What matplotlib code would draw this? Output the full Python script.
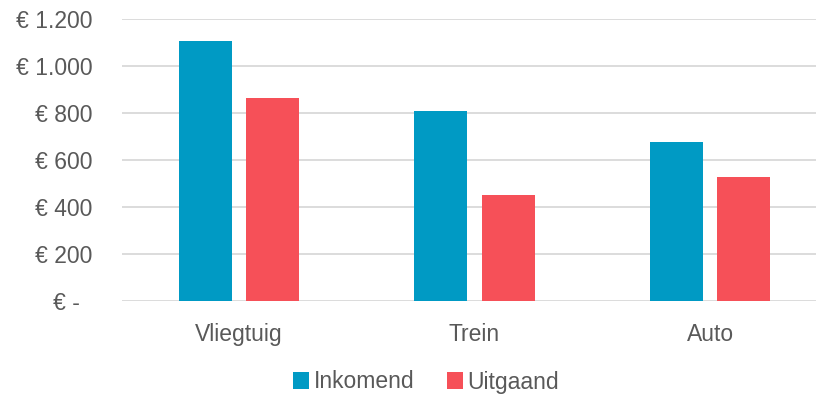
import matplotlib.pyplot as plt
import numpy as np
from matplotlib.ticker import FuncFormatter

categories = ["Vliegtuig", "Trein", "Auto"]
inkomend = [1106, 808, 677]
uitgaand = [864, 452, 528]
series_names = ["Inkomend", "Uitgaand"]
colors = ["#009AC4", "#F65058"]
text_color = "#595959"

plt.rcParams['font.family'] = ['Liberation Sans', 'DejaVu Sans']

fig = plt.figure(figsize=(8.16, 4.0), dpi=100)
ax = fig.add_axes([122 / 816, 1 - 301 / 400, 1 - 122 / 816, (301 - 19) / 400])

x = np.arange(len(categories))
w = 0.225
off = 0.1425
ax.bar(x - off, inkomend, w, color=colors[0], label=series_names[0], zorder=3)
ax.bar(x + off, uitgaand, w, color=colors[1], label=series_names[1], zorder=3)

ax.set_xlim(-0.497, 2.45)
ax.set_ylim(0, 1200)
ax.set_yticks(np.arange(0, 1201, 200))


def euro(v, pos):
    if v == 0:
        return "€ -  "
    return "€ " + f"{int(v):,}".replace(",", ".")


ax.yaxis.set_major_formatter(FuncFormatter(euro))
ax.set_xticks(x)
ax.set_xticklabels(categories)

ax.grid(axis='y', color="#D9D9D9", linewidth=1.3, zorder=0)
for s in ax.spines.values():
    s.set_visible(False)
ax.tick_params(axis='both', length=0, labelsize=16.5, colors=text_color)
ax.tick_params(axis='y', pad=21)
ax.tick_params(axis='x', pad=16)

fig.legend(loc='center', bbox_to_anchor=(426 / 816, 1 - 382 / 400), ncol=2,
           frameon=False, fontsize=16.5, labelcolor=text_color,
           handlelength=0.7, handleheight=0.7, handletextpad=0.2,
           columnspacing=1.4)

fig.savefig("out.png", dpi=100)
